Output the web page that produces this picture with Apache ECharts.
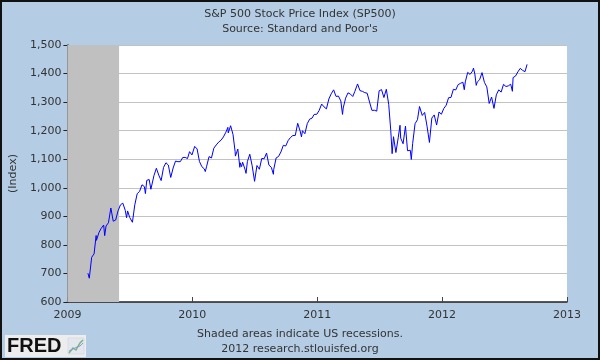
<!DOCTYPE html>
<html>
<head>
<meta charset="utf-8">
<script src="https://cdn.jsdelivr.net/npm/echarts@6/dist/echarts.min.js"></script>
<style>
html,body{margin:0;padding:0;background:#B4CDE5;}
#chart{width:600px;height:360px;}
</style>
</head>
<body>
<div id="chart"></div>
<script>
var chartTitle = 'S&P 500 Stock Price Index (SP500)';
var chartSubtitle = "Source: Standard and Poor's";
var footer1 = 'Shaded areas indicate US recessions.';
var footer2 = '2012 research.stlouisfed.org';
var yAxisName = '(Index)';
var yTicks = [600, 700, 800, 900, 1000, 1100, 1200, 1300, 1400, 1500];
var xTicks = [2009, 2010, 2011, 2012, 2013];
var recessionStart = '2009-01-01';
var recessionEnd = '2009-06-01';

var dates = [
'2009-03-02','2009-03-06','2009-03-09','2009-03-13','2009-03-20','2009-03-26','2009-03-27','2009-04-03','2009-04-09','2009-04-17',
'2009-04-20','2009-04-24','2009-05-01','2009-05-08','2009-05-15','2009-05-22','2009-05-29','2009-06-05','2009-06-12','2009-06-19',
'2009-06-23','2009-06-26','2009-07-02','2009-07-10','2009-07-17','2009-07-24','2009-07-31','2009-08-07','2009-08-14','2009-08-17',
'2009-08-21','2009-08-28','2009-09-02','2009-09-11','2009-09-18','2009-09-25','2009-10-02','2009-10-09','2009-10-16','2009-10-23',
'2009-10-30','2009-11-06','2009-11-13','2009-11-20','2009-11-27','2009-12-04','2009-12-11','2009-12-18','2009-12-24','2009-12-31',
'2010-01-08','2010-01-15','2010-01-22','2010-01-29','2010-02-05','2010-02-08','2010-02-12','2010-02-19','2010-02-26','2010-03-05',
'2010-03-12','2010-03-19','2010-03-26','2010-04-02','2010-04-09','2010-04-15','2010-04-16','2010-04-23','2010-04-30','2010-05-06',
'2010-05-07','2010-05-14','2010-05-20','2010-05-21','2010-05-25','2010-05-28','2010-06-04','2010-06-07','2010-06-11','2010-06-18',
'2010-06-25','2010-07-02','2010-07-09','2010-07-16','2010-07-23','2010-07-30','2010-08-06','2010-08-13','2010-08-20','2010-08-26',
'2010-08-27','2010-09-03','2010-09-10','2010-09-17','2010-09-24','2010-10-01','2010-10-08','2010-10-15','2010-10-22','2010-10-29',
'2010-11-05','2010-11-12','2010-11-16','2010-11-19','2010-11-26','2010-12-03','2010-12-10','2010-12-17','2010-12-23','2010-12-31',
'2011-01-07','2011-01-14','2011-01-21','2011-01-28','2011-02-04','2011-02-11','2011-02-18','2011-02-25','2011-03-04','2011-03-11',
'2011-03-16','2011-03-18','2011-03-25','2011-04-01','2011-04-08','2011-04-15','2011-04-21','2011-04-29','2011-05-06','2011-05-13',
'2011-05-20','2011-05-27','2011-06-03','2011-06-10','2011-06-15','2011-06-17','2011-06-24','2011-07-01','2011-07-08','2011-07-15',
'2011-07-22','2011-07-29','2011-08-04','2011-08-05','2011-08-08','2011-08-12','2011-08-19','2011-08-26','2011-08-31','2011-09-02',
'2011-09-09','2011-09-16','2011-09-22','2011-09-23','2011-09-30','2011-10-03','2011-10-07','2011-10-14','2011-10-21','2011-10-27',
'2011-10-28','2011-11-04','2011-11-11','2011-11-18','2011-11-25','2011-12-02','2011-12-09','2011-12-16','2011-12-23','2011-12-30',
'2012-01-06','2012-01-13','2012-01-20','2012-01-27','2012-02-03','2012-02-10','2012-02-17','2012-02-24','2012-03-02','2012-03-06',
'2012-03-09','2012-03-16','2012-03-23','2012-03-30','2012-04-02','2012-04-06','2012-04-10','2012-04-13','2012-04-20','2012-04-27',
'2012-05-04','2012-05-11','2012-05-18','2012-05-25','2012-06-01','2012-06-08','2012-06-15','2012-06-22','2012-06-29','2012-07-06',
'2012-07-13','2012-07-20','2012-07-25','2012-07-27','2012-08-03','2012-08-10','2012-08-17','2012-08-24','2012-08-31','2012-09-06'
];
var values = [
700.82,683.38,676.53,756.55,768.54,832.86,815.94,842.50,856.56,869.60,
832.39,866.23,877.52,929.23,882.88,887.00,919.14,940.09,946.21,921.23,
895.10,918.90,896.42,879.13,940.38,979.26,987.48,1010.48,1004.09,979.73,
1026.13,1028.93,994.75,1042.73,1068.30,1044.38,1025.21,1071.49,1087.68,1079.60,
1036.19,1069.30,1093.48,1091.38,1091.49,1105.98,1106.41,1102.47,1126.48,1115.10,
1144.98,1136.03,1091.76,1073.87,1066.19,1056.74,1075.51,1109.17,1104.49,1138.70,
1149.99,1159.90,1166.59,1178.10,1194.37,1211.67,1192.13,1217.28,1186.69,1128.15,
1110.88,1135.68,1071.59,1087.69,1074.03,1089.41,1064.88,1050.47,1091.60,1117.51,
1076.76,1022.58,1077.96,1064.88,1102.66,1101.60,1121.64,1079.25,1071.69,1047.22,
1064.59,1104.51,1109.55,1125.59,1148.67,1146.24,1165.15,1176.19,1183.08,1183.26,
1225.85,1199.21,1178.34,1199.73,1189.40,1224.71,1240.40,1243.91,1256.77,1257.64,
1271.50,1293.24,1283.35,1276.34,1310.87,1329.15,1343.01,1319.88,1321.15,1304.28,
1256.88,1279.20,1313.80,1332.41,1328.17,1319.68,1337.38,1363.61,1340.20,1337.77,
1333.27,1331.10,1300.16,1270.98,1265.42,1271.50,1268.45,1339.67,1343.80,1316.14,
1345.02,1292.28,1200.07,1199.38,1119.46,1178.81,1123.53,1176.80,1218.89,1173.97,
1154.23,1216.01,1129.56,1136.43,1131.42,1099.23,1155.46,1224.58,1238.25,1284.59,
1285.09,1253.23,1263.85,1215.65,1158.67,1244.28,1255.19,1219.66,1265.33,1257.60,
1277.81,1289.09,1315.38,1316.33,1344.90,1342.64,1361.23,1365.74,1369.63,1343.36,
1370.87,1404.17,1397.11,1408.47,1419.04,1398.08,1358.59,1370.26,1378.53,1403.36,
1369.10,1353.39,1295.22,1317.82,1278.04,1325.66,1342.84,1335.02,1362.16,1354.68,
1356.78,1362.66,1337.89,1385.97,1390.99,1405.87,1418.16,1411.13,1406.58,1432.12
];

function decYear(s) {
  var p = s.split('-');
  var y = +p[0], m = +p[1], d = +p[2];
  var t = Date.UTC(y, m - 1, d), a = Date.UTC(y, 0, 1), b = Date.UTC(y + 1, 0, 1);
  return y + (t - a) / (b - a);
}
var seriesData = dates.map(function (d, i) { return [decYear(d), values[i]]; });

var font = 'DejaVu Sans';
var textColor = '#333';
var chart = echarts.init(document.getElementById('chart'), null, {renderer: 'canvas'});
chart.setOption({
  backgroundColor: '#B4CDE5',
  animation: false,
  title: [
    {text: chartTitle, left: 'center', top: 4, textStyle: {fontFamily: font, fontSize: 11, fontWeight: 'normal', color: textColor}},
    {text: chartSubtitle, left: 'center', top: 19, textStyle: {fontFamily: font, fontSize: 11, fontWeight: 'normal', color: textColor}},
    {text: footer1, left: 'center', top: 324, textStyle: {fontFamily: font, fontSize: 11, fontWeight: 'normal', color: textColor}},
    {text: footer2, left: 'center', top: 339, textStyle: {fontFamily: font, fontSize: 11, fontWeight: 'normal', color: textColor}}
  ],
  grid: {left: 66, right: 33, top: 45, bottom: 58, show: true, backgroundColor: '#fff', borderWidth: 0},
  xAxis: {
    type: 'value', min: xTicks[0], max: xTicks[xTicks.length - 1], interval: 1,
    axisLine: {show: true, lineStyle: {color: '#222', width: 1.5}},
    axisTick: {show: true, inside: true, length: 5, lineStyle: {color: '#444'}},
    axisLabel: {margin: 8, fontFamily: font, fontSize: 11, color: textColor, formatter: function (v) { return String(Math.round(v)); }},
    splitLine: {show: false}
  },
  yAxis: {
    type: 'value', min: yTicks[0], max: yTicks[yTicks.length - 1], interval: 100,
    name: yAxisName, nameLocation: 'middle', nameGap: 48, nameRotate: 90,
    nameTextStyle: {fontFamily: font, fontSize: 11, color: textColor},
    axisLine: {show: true, lineStyle: {color: '#222', width: 1.5}},
    axisTick: {show: true, inside: false, length: 4, lineStyle: {color: '#222'}},
    axisLabel: {margin: 6, fontFamily: font, fontSize: 11, color: textColor, formatter: function (v) { return v.toLocaleString('en-US'); }},
    splitLine: {show: true, lineStyle: {color: '#C2C2C2', width: 1}}
  },
  series: [{
    type: 'line', data: seriesData, showSymbol: false, symbol: 'none',
    lineStyle: {color: '#0000FF', width: 1},
    markArea: {
      silent: true,
      itemStyle: {color: '#C0C0C0', opacity: 1},
      data: [[{xAxis: decYear(recessionStart)}, {xAxis: decYear(recessionEnd)}]]
    },
    z: 3
  }],
  graphic: [
    {type: 'rect', shape: {x: 1, y: 1, width: 598, height: 358}, style: {fill: 'none', stroke: '#111', lineWidth: 2}, z: 100},
    {type: 'rect', shape: {x: 5, y: 335, width: 81, height: 22}, style: {fill: '#EDEDED'}, z: 50},
    {type: 'text', x: 7, y: 336, style: {text: 'FRED', font: 'bold 20px "Liberation Sans"', fill: '#111'}, z: 51},
    {type: 'rect', shape: {x: 68, y: 338, width: 16, height: 16}, style: {fill: '#E4E8EE', stroke: '#C8CFD8', lineWidth: 0.5}, z: 51},
    {type: 'polyline', shape: {points: [[69, 353], [73, 348], [76, 350], [80, 343], [83, 340]]}, style: {stroke: '#7FB27F', lineWidth: 1.5, fill: 'none'}, z: 52},
    {type: 'polyline', shape: {points: [[69, 351], [73, 349], [77, 347], [80, 346], [83, 343]]}, style: {stroke: '#7F9FD0', lineWidth: 1, fill: 'none'}, z: 52}
  ]
});
</script>
</body>
</html>
